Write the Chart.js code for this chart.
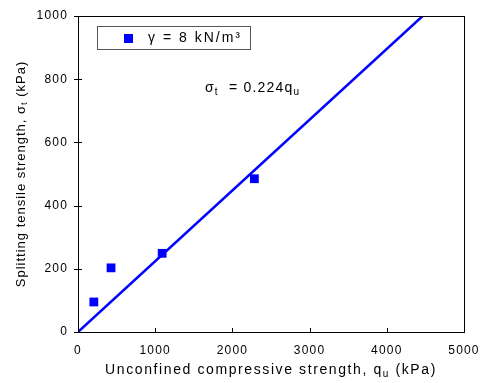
<!DOCTYPE html>
<html>
<head>
<meta charset="utf-8">
<script src="https://cdn.jsdelivr.net/npm/chart.js@4"></script>
<style>
  html, body { margin: 0; padding: 0; background: #fff; }
  #wrap { width: 485px; height: 383px; }
</style>
</head>
<body>
<div id="wrap"><canvas id="scatterPlot" width="485" height="383"></canvas></div>
<script>
// measured points
var qu = [205, 428, 1090, 2285];
var sigmaT = [95, 203, 249, 485];
// fitted line sigma_t = 0.224 qu
var slope = 0.224;
var lineX = [0, 1000 / slope];
var xTicks = [0, 1000, 2000, 3000, 4000, 5000];
var yTicks = [0, 200, 400, 600, 800, 1000];

var FONT = 'Arial, "Liberation Sans", sans-serif';

// draw text with subscript parts, returns width
function drawSub(ctx, parts, x, y, size, doDraw) {
    var w = 0;
    parts.forEach(function (p) {
        ctx.font = (p[1] ? Math.round(size * 0.72) : size) + 'px ' + FONT;
        if (doDraw !== false) ctx.fillText(p[0], x + w, y + (p[1] ? size * 0.3 : 0));
        w += ctx.measureText(p[0]).width;
    });
    return w;
}

var decorPlugin = {
    id: 'decor',
    beforeDraw: function (chart) {
        chart.ctx.letterSpacing = '1.2px';
    },
    afterDraw: function (chart) {
        var ctx = chart.ctx;
        var a = chart.chartArea;
        var xs = chart.scales.x, ys = chart.scales.y;
        ctx.save();
        // frame
        ctx.strokeStyle = '#000';
        ctx.lineWidth = 1;
        ctx.strokeRect(Math.round(a.left) + 0.5, Math.round(a.top) + 0.5,
            Math.round(a.right - a.left), Math.round(a.bottom - a.top));
        // ticks
        ctx.beginPath();
        xTicks.forEach(function (v) {
            var px = Math.round(xs.getPixelForValue(v)) + 0.5;
            ctx.moveTo(px, a.bottom);
            ctx.lineTo(px, a.bottom - 4);
        });
        yTicks.forEach(function (v) {
            var py = Math.round(ys.getPixelForValue(v)) + 0.5;
            ctx.moveTo(a.left - 4, py);
            ctx.lineTo(a.left + 4, py);
        });
        ctx.stroke();

        ctx.fillStyle = '#000';
        ctx.textBaseline = 'middle';
        ctx.textAlign = 'left';

        // x axis title
        ctx.letterSpacing = '1.6px';
        var xt = [['Unconfined compressive strength, q', false], ['u', true], [' (kPa)', false]];
        var xw = drawSub(ctx, xt, 0, 0, 14, false);
        drawSub(ctx, xt, (a.left + a.right) / 2 - xw / 2, 370, 14);

        // y axis title
        ctx.letterSpacing = '1px';
        var yt = [['Splitting tensile strength, \u03c3', false], ['t', true], [' (kPa)', false]];
        var yw = drawSub(ctx, yt, 0, 0, 13, false);
        ctx.save();
        ctx.translate(21, (a.top + a.bottom) / 2);
        ctx.rotate(-Math.PI / 2);
        drawSub(ctx, yt, -yw / 2, 0, 13);
        ctx.restore();

        // equation
        ctx.letterSpacing = '1.2px';
        drawSub(ctx, [['\u03c3', false], ['t', true], ['  = 0.224q', false], ['u', true]], 205, 88, 14);

        // legend box
        ctx.fillStyle = '#fff';
        ctx.fillRect(97.5, 26.5, 153, 23);
        ctx.strokeStyle = '#555';
        ctx.strokeRect(97.5, 26.5, 153, 23);
        ctx.fillStyle = '#0000ff';
        ctx.fillRect(124, 34, 9, 9);
        ctx.fillStyle = '#000';
        ctx.letterSpacing = '2px';
        ctx.font = '14px ' + FONT;
        ctx.fillText('\u03b3 = 8 kN/m\u00b3', 148, 38);
        ctx.restore();
    }
};

document.addEventListener('DOMContentLoaded', function () {
    createScatter();
});

function createScatter() {
    var ctx = document.getElementById('scatterPlot').getContext('2d');
    var points = qu.map(function (v, i) { return { x: v, y: sigmaT[i] }; });
    var fit = lineX.map(function (v) { return { x: v, y: slope * v }; });
    new Chart(ctx, {
        type: 'scatter',
        data: {
            datasets: [{
                label: '\u03b3 = 8 kN/m\u00b3',
                data: points,
                pointStyle: 'rect',
                pointRadius: 6.2,
                backgroundColor: '#0000ff',
                borderColor: '#0000ff',
                borderWidth: 0
            }, {
                label: 'fit',
                data: fit,
                showLine: true,
                pointRadius: 0,
                borderColor: '#0000ff',
                borderWidth: 2.5,
                fill: false
            }]
        },
        options: {
            responsive: false,
            animation: false,
            layout: { padding: { top: 16, right: 21, left: 0, bottom: 0 } },
            scales: {
                x: {
                    type: 'linear',
                    min: 0,
                    max: 5000,
                    afterFit: function (s) { s.height = 51; s.paddingLeft = 0; s.paddingRight = 0; },
                    afterBuildTicks: function (s) { s.ticks = xTicks.map(function (v) { return { value: v }; }); },
                    grid: { display: false, drawTicks: false },
                    border: { display: false },
                    ticks: {
                        color: '#000', font: { family: FONT, size: 12 }, padding: 11, maxRotation: 0,
                        callback: function (v) { return String(v); }
                    }
                },
                y: {
                    type: 'linear',
                    min: 0,
                    max: 1000,
                    afterFit: function (s) { s.width = 78; s.paddingTop = 0; s.paddingBottom = 0; },
                    afterBuildTicks: function (s) { s.ticks = yTicks.map(function (v) { return { value: v }; }); },
                    grid: { display: false, drawTicks: false },
                    border: { display: false },
                    ticks: {
                        color: '#000', font: { family: FONT, size: 12 }, padding: 10,
                        callback: function (v) { return String(v); }
                    }
                }
            },
            plugins: {
                legend: { display: false },
                tooltip: { enabled: false }
            }
        },
        plugins: [decorPlugin]
    });
}
</script>
</body>
</html>
